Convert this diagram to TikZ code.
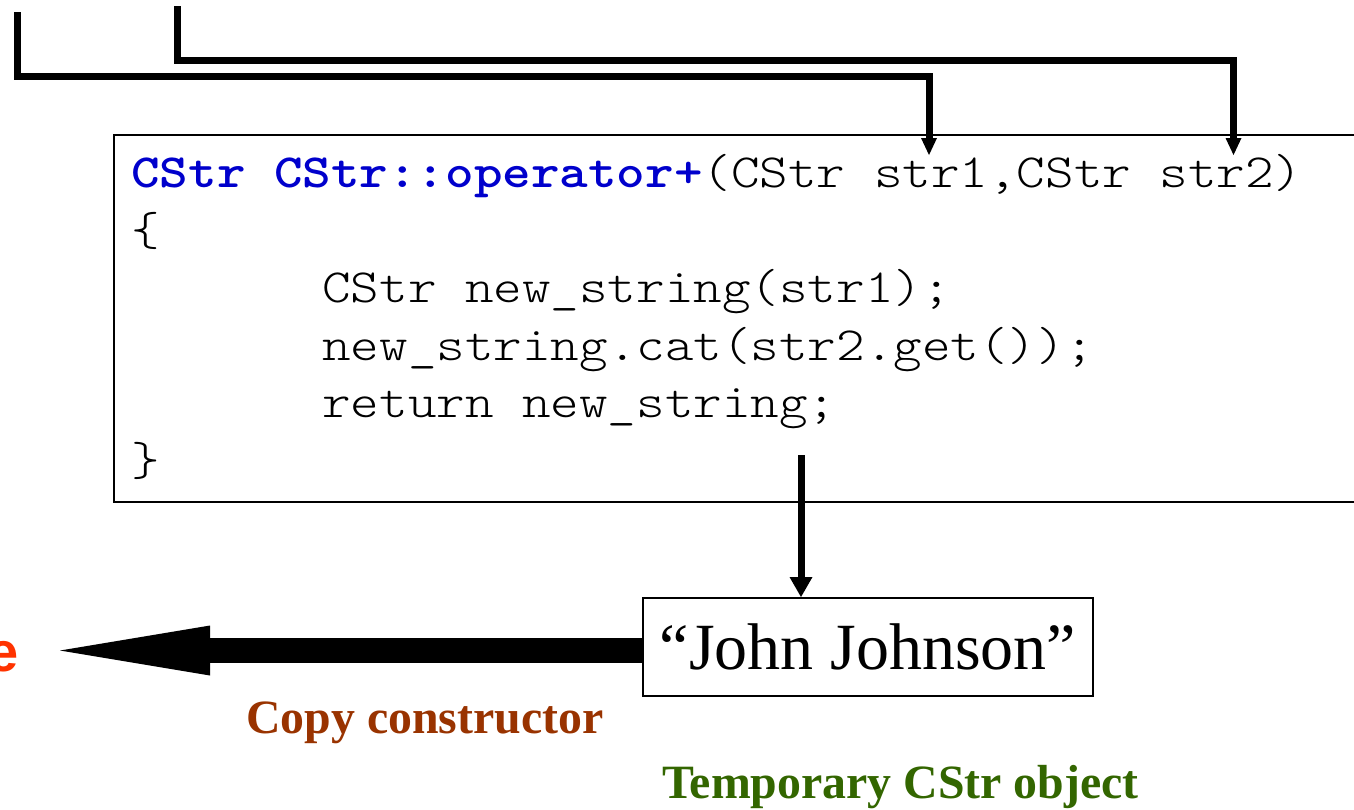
\documentclass[tikz,border=0pt]{standalone}
\usepackage{fontspec}
\setmainfont{Liberation Serif}
\newfontfamily\arialfont{Liberation Sans}
% thin typewriter face, widened to a 0.6em character cell
\newfontfamily\codefont{lmmonolt10-regular.otf}[FakeStretch=1.143, BoldFont=lmmonolt10-bold.otf]
\usetikzlibrary{arrows.meta}

\definecolor{codeblue}{RGB}{0,0,204}
\definecolor{ccbrown}{RGB}{153,51,0}
\definecolor{tmpgreen}{RGB}{51,102,0}
\definecolor{destorange}{RGB}{255,51,0}

\begin{document}
\begin{tikzpicture}[x=0.5pt,y=-0.5pt,
  codeline/.style={anchor=base west, inner sep=0pt, font=\codefont\fontsize{23.8}{28}\selectfont},
  param/.style={line width=3.5pt, -{Triangle[length=8.5pt,width=8pt,line width=0pt]}},
  ret/.style={line width=3.5pt, -{Triangle[length=10pt,width=11.5pt,line width=0pt]}},
  bigarrow/.style={line width=12.5pt, -{Triangle[length=75pt,width=25pt,line width=0pt]}},
  note/.style={anchor=base west, inner sep=0pt, font=\bfseries\fontsize{23.9}{29}\selectfont}]
\useasboundingbox (0,0) rectangle (1354,809);

% function body
\node[draw, line width=1pt, anchor=north west, inner sep=0pt,
      minimum width=643.5pt, minimum height=183.5pt] (code) at (113,134) {};
\node[codeline] (l1) at (131,187) {\textcolor{codeblue}{\bfseries CStr CStr::operator+}(CStr str1,CStr str2)};
\node[codeline] (l2) at (131,245) {\{};
\node[codeline] (l3) at (322,302) {CStr new\_string(str1);};
\node[codeline] (l4) at (322,360) {new\_string.cat(str2.get());};
\node[codeline] (l5) at (322,417) {return new\_string;};
\node[codeline] (l6) at (131,475) {\}};

% returned temporary object
\node[draw, line width=1pt, minimum width=225pt, minimum height=49pt, inner sep=0pt,
      font=\fontsize{33}{40}\selectfont] (john) at (868,647) {“John Johnson”};

% arguments passed into the operator
\coordinate (s1) at (17.5,12);
\coordinate (k1) at (929,76.5);
\coordinate (t1) at (929,155);
\coordinate (s2) at (177.5,6);
\coordinate (k2) at (1233.5,60.5);
\coordinate (t2) at (1233.5,155);
\draw[param] (s1) |- (k1) -- (t1);
\draw[param] (s2) |- (k2) -- (t2);

% return value
\coordinate (r) at (801,455);
\draw[ret] (r) -- (r |- john.north);

% copy into destination
\coordinate (dest) at (60,650.5);
\draw[bigarrow] (dest -| john.west) -- (dest);
\node[anchor=base east, inner sep=0pt, text=destorange,
      font=\arialfont\bfseries\fontsize{28}{34}\selectfont] (dlabel) at (19,671) {e};

\node[note, text=ccbrown] (cc) at (246,733) {Copy constructor};
\node[note, text=tmpgreen] (tmp) at (662,798) {Temporary CStr object};
\end{tikzpicture}
\end{document}
